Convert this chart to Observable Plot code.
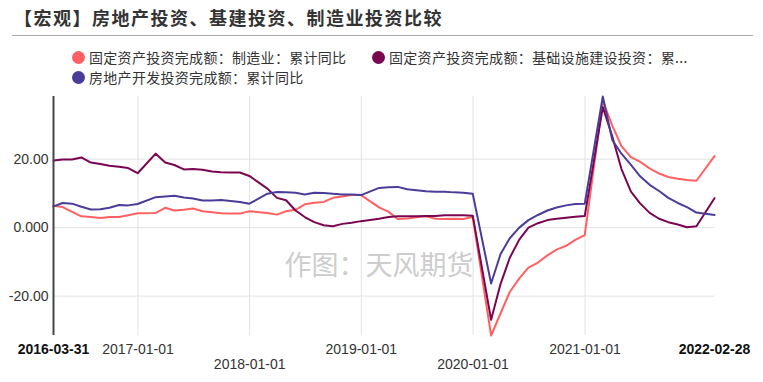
<!DOCTYPE html>
<html>
<head>
<meta charset="utf-8">
<script src="https://cdn.jsdelivr.net/npm/d3@7"></script>
<script src="https://cdn.jsdelivr.net/npm/@observablehq/plot@0.6"></script>
<style>
  html, body { margin: 0; padding: 0; background: #fff; }
  #wrap { position: relative; width: 763px; height: 382px; overflow: hidden; font-family: "Noto Sans CJK SC", "Liberation Sans", sans-serif; }
  #title { position: absolute; left: 14px; top: 2px; font-size: 18px; line-height: 30px; font-weight: bold; color: #333; letter-spacing: 1.5px; white-space: nowrap; }
  #rule { position: absolute; left: 12px; top: 35px; width: 741px; height: 0; border-top: 1px solid #aaa; }
  .item { position: absolute; height: 20px; display: flex; align-items: center; font-size: 14px; color: #333; white-space: nowrap; letter-spacing: 0.3px; }
  .dot { width: 13px; height: 13px; border-radius: 50%; margin-right: 4px; }
  #chart { position: absolute; left: 0; top: 90px; }
</style>
</head>
<body>
<div id="wrap">
  <div id="title"></div>
  <div id="rule"></div>
  <div id="legend"></div>
  <div id="chart"></div>
</div>
<script>
const titleText = "【宏观】房地产投资、基建投资、制造业投资比较";
const seriesNames = [
  "固定资产投资完成额：制造业：累计同比",
  "固定资产投资完成额：基础设施建设投资：累...",
  "房地产开发投资完成额：累计同比"
];
const seriesColors = ["#ff6163", "#7a0652", "#4a3d99"];
const watermark = "作图：天风期货";

// report months (cumulative YoY, reported at month end; Jan is merged into Feb)
const months = [
  "2016-03","2016-04","2016-05","2016-06","2016-07","2016-08","2016-09","2016-10","2016-11","2016-12",
  "2017-02","2017-03","2017-04","2017-05","2017-06","2017-07","2017-08","2017-09","2017-10","2017-11","2017-12",
  "2018-02","2018-03","2018-04","2018-05","2018-06","2018-07","2018-08","2018-09","2018-10","2018-11","2018-12",
  "2019-02","2019-03","2019-04","2019-05","2019-06","2019-07","2019-08","2019-09","2019-10","2019-11","2019-12",
  "2020-02","2020-03","2020-04","2020-05","2020-06","2020-07","2020-08","2020-09","2020-10","2020-11","2020-12",
  "2021-02","2021-03","2021-04","2021-05","2021-06","2021-07","2021-08","2021-09","2021-10","2021-11","2021-12",
  "2022-02"
];
const manufacturing = [
  6.4, 6.0, 4.6, 3.3, 3.1, 2.8, 3.1, 3.1, 3.6, 4.2,
  4.3, 5.8, 5.0, 5.2, 5.6, 4.8, 4.5, 4.2, 4.1, 4.1, 4.8,
  4.3, 3.8, 4.8, 5.2, 6.8, 7.3, 7.5, 8.7, 9.1, 9.5, 9.5,
  5.9, 4.6, 2.5, 2.7, 3.0, 3.3, 2.6, 2.5, 2.6, 2.5, 3.1,
  -31.5, -25.0, -18.8, -14.8, -11.7, -10.2, -8.1, -6.4, -5.3, -3.6, -2.2,
  37.0, 29.8, 23.8, 20.6, 19.2, 17.3, 15.8, 14.8, 14.3, 13.9, 13.7,
  20.9
];
const infrastructure = [
  19.6, 19.9, 19.9, 20.5, 19.0, 18.6, 18.1, 17.8, 17.4, 15.9,
  21.6, 19.0, 18.3, 17.0, 17.1, 16.9, 16.4, 16.2, 16.1, 16.1, 15.1,
  11.4, 8.7, 8.0, 5.0, 3.1, 1.6, 0.7, 0.4, 1.1, 1.4, 1.9,
  2.6, 3.1, 3.3, 3.3, 3.3, 3.4, 3.4, 3.6, 3.6, 3.6, 3.5,
  -26.9, -16.4, -8.8, -3.5, 0.0, 1.3, 2.2, 2.6, 2.9, 3.2, 3.4,
  35.2, 26.6, 17.1, 10.5, 7.1, 4.3, 2.6, 1.6, 0.9, 0.1, 0.4,
  8.6
];
const realEstate = [
  6.2, 7.2, 7.0, 6.1, 5.3, 5.4, 5.8, 6.6, 6.5, 6.9,
  8.9, 9.1, 9.3, 8.8, 8.5, 7.9, 7.9, 8.1, 7.8, 7.5, 7.0,
  9.9, 10.4, 10.3, 10.2, 9.7, 10.2, 10.1, 9.9, 9.7, 9.7, 9.5,
  11.6, 11.8, 11.9, 11.2, 10.9, 10.6, 10.5, 10.5, 10.3, 10.2, 9.9,
  -16.3, -7.7, -3.1, 0.0, 2.2, 3.7, 5.0, 5.9, 6.5, 6.9, 7.0,
  38.3, 25.6, 21.6, 18.3, 15.0, 12.5, 10.7, 8.7, 7.2, 6.0, 4.4,
  3.7
];
const seriesValues = [manufacturing, infrastructure, realEstate];

const xStart = "2016-03-31", xEnd = "2022-02-28";
const yTicks = [-20, 0, 20];
const gridDates = ["2017-01-01", "2018-01-01", "2019-01-01", "2020-01-01", "2021-01-01"];
const xLabelsBold = ["2016-03-31", "2022-02-28"];
const xLabelsRow1 = ["2017-01-01", "2019-01-01", "2021-01-01"];
const xLabelsRow2 = ["2018-01-01", "2020-01-01"];

// ---- title and legend ----
document.getElementById("title").textContent = titleText;
const legendPos = [[72, 47], [372, 47], [72, 67]];
const legend = document.getElementById("legend");
seriesNames.forEach((name, i) => {
  const it = document.createElement("div");
  it.className = "item";
  it.style.left = legendPos[i][0] + "px";
  it.style.top = legendPos[i][1] + "px";
  const dot = document.createElement("span");
  dot.className = "dot";
  dot.style.background = seriesColors[i];
  const tx = document.createElement("span");
  tx.textContent = name;
  it.appendChild(dot); it.appendChild(tx);
  legend.appendChild(it);
});

// ---- chart ----
const parseDay = d3.utcParse("%Y-%m-%d");
const parseMonth = d3.utcParse("%Y-%m");
const dates = months.map(m => d3.utcDay.offset(d3.utcMonth.offset(parseMonth(m), 1), -1));
const rows = [];
seriesValues.forEach((vals, s) => {
  vals.forEach((v, i) => rows.push({date: dates[i], value: v, series: seriesNames[s]}));
});
const fmt = d => d3.format(".4r")(d).replace("−", "-");
const labelData = arr => arr.map(s => ({date: parseDay(s), label: s}));

const lineMarks = seriesNames.map((name, s) =>
  Plot.lineY(rows.filter(r => r.series === name), {
    x: "date", y: "value", stroke: seriesColors[s], strokeWidth: 2, curve: "linear"
  })
);

const chart = Plot.plot({
  width: 763,
  height: 290,
  marginTop: 6,
  marginBottom: 45,
  marginLeft: 53,
  marginRight: 49,
  style: {fontFamily: "'Liberation Sans', Arial, sans-serif", background: "transparent", overflow: "visible"},
  x: {type: "utc", domain: [parseDay(xStart), parseDay(xEnd)], axis: null},
  y: {domain: d3.extent(rows, r => r.value), axis: null},
  marks: [
    Plot.ruleY(yTicks, {stroke: "#e2e2e2", strokeWidth: 1}),
    Plot.ruleX(gridDates.map(parseDay), {stroke: "#e2e2e2", strokeWidth: 1}),
    Plot.text([watermark], {frameAnchor: "middle", dx: -5, dy: 50, fontSize: 27, fill: "#cdcdcd", fontFamily: "Noto Sans CJK SC"}),
    ...lineMarks,
    Plot.ruleX([parseDay(xStart)], {stroke: "#444", strokeWidth: 2}),
    Plot.axisY(yTicks, {tickSize: 0, tickPadding: 5, tickFormat: fmt, fontSize: 14, fill: "#333", label: null}),
    Plot.text(labelData(xLabelsBold), {x: "date", text: "label", frameAnchor: "bottom", lineAnchor: "middle", dy: 14, fontSize: 14, fontWeight: "bold", fill: "#111"}),
    Plot.text(labelData(xLabelsRow1), {x: "date", text: "label", frameAnchor: "bottom", lineAnchor: "middle", dy: 14, fontSize: 14, fill: "#333"}),
    Plot.text(labelData(xLabelsRow2), {x: "date", text: "label", frameAnchor: "bottom", lineAnchor: "middle", dy: 29, fontSize: 14, fill: "#333"})
  ]
});
document.getElementById("chart").appendChild(chart);
</script>
</body>
</html>
